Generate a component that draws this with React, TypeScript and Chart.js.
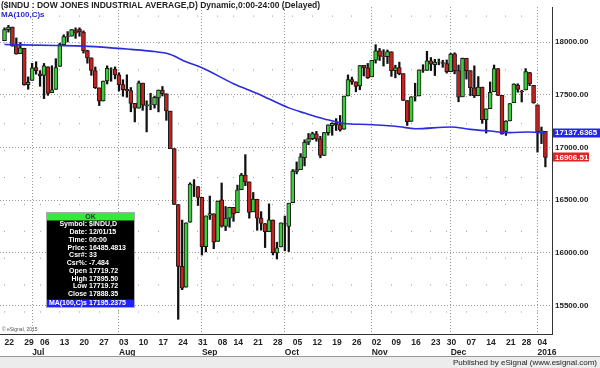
import React, { useEffect, useRef } from 'react';
import { Chart, registerables } from 'chart.js';

Chart.register(...registerables);

// ---------- data (daily candles, DJIA) ----------
const days = [
  '06-22','06-23','06-24','06-25','06-26',
  '06-29','06-30','07-01','07-02',
  '07-06','07-07','07-08','07-09','07-10',
  '07-13','07-14','07-15','07-16','07-17',
  '07-20','07-21','07-22','07-23','07-24',
  '07-27','07-28','07-29','07-30','07-31',
  '08-03','08-04','08-05','08-06','08-07',
  '08-10','08-11','08-12','08-13','08-14',
  '08-17','08-18','08-19','08-20','08-21',
  '08-24','08-25','08-26','08-27','08-28',
  '08-31','09-01','09-02','09-03','09-04',
  '09-08','09-09','09-10','09-11',
  '09-14','09-15','09-16','09-17','09-18',
  '09-21','09-22','09-23','09-24','09-25',
  '09-28','09-29','09-30','10-01','10-02',
  '10-05','10-06','10-07','10-08','10-09',
  '10-12','10-13','10-14','10-15','10-16',
  '10-19','10-20','10-21','10-22','10-23',
  '10-26','10-27','10-28','10-29','10-30',
  '11-02','11-03','11-04','11-05','11-06',
  '11-09','11-10','11-11','11-12','11-13',
  '11-16','11-17','11-18','11-19','11-20',
  '11-23','11-24','11-25','11-27',
  '11-30','12-01','12-02','12-03','12-04',
  '12-07','12-08','12-09','12-10','12-11',
  '12-14','12-15','12-16','12-17','12-18',
  '12-21','12-22','12-23','12-24',
  '12-28','12-29','12-30','12-31',
  '01-04','01-05','01-06',
];

const opens = [
  18016, 18120, 18143, 17969, 17891,
  17943, 17597, 17638, 17760,
  17700, 17684, 17767, 17522, 17552,
  17771, 17978, 18053, 18058, 18111,
  18125, 18096, 17920, 17852, 17732,
  17567, 17442, 17632, 17745, 17746,
  17690, 17599, 17552, 17542, 17419,
  17374, 17612, 17396, 17404, 17405,
  17472, 17545, 17511, 17346, 16990,
  16459, 15872, 15676, 16291, 16644,
  16629, 16528, 16060, 16358, 16372,
  16109, 16505, 16252, 16330,
  16433, 16382, 16600, 16739, 16674,
  16390, 16510, 16330, 16279, 16201,
  16313, 16001, 16057, 16278, 16252,
  16477, 16775, 16791, 16904, 17051,
  17085, 17131, 17082, 16925, 17141,
  17209, 17231, 17219, 17174, 17490,
  17646, 17624, 17586, 17780, 17756,
  17672, 17829, 17918, 17867, 17863,
  17910, 17730, 17759, 17702, 17446,
  17249, 17486, 17490, 17738, 17733,
  17824, 17788, 17813, 17806,
  17798, 17719.72, 17889, 17730, 17482,
  17848, 17730, 17568, 17492, 17574,
  17266, 17370, 17530, 17750, 17495,
  17154, 17253, 17427, 17593,
  17535, 17547, 17711, 17590,
  17405, 17147, 17154,
];

const highs = [
  18137, 18160, 18144, 18041, 17997,
  17943, 17671, 17800, 17815,
  17730, 17799, 17767, 17777, 17844,
  17990, 18071, 18101, 18122, 18137,
  18137, 18108, 17925, 17852, 17765,
  17567, 17632, 17776, 17758, 17766,
  17711, 17644, 17691, 17570, 17419,
  17632, 17612, 17444, 17516, 17489,
  17547, 17580, 17511, 17346, 16990,
  16459, 16312, 16285, 16666, 16696,
  16629, 16528, 16351, 16540, 16372,
  16493, 16664, 16441, 16434,
  16433, 16644, 16755, 16933, 16674,
  16574, 16510, 16392, 16279, 16466,
  16313, 16102, 16285, 16350, 16472,
  16792, 16864, 16943, 17074, 17134,
  17146, 17154, 17107, 17145, 17216,
  17236, 17275, 17305, 17489, 17690,
  17669, 17624, 17779, 17780, 17799,
  17828, 17977, 17941, 17929, 17927,
  17910, 17782, 17811, 17702, 17446,
  17483, 17611, 17737, 17787, 17914,
  17855, 17838, 17841, 17829,
  17832, 17895.5, 17900, 17784, 17850,
  17848, 17730, 17776, 17674, 17574,
  17368, 17623, 17784, 17750, 17495,
  17255, 17418, 17606, 17606,
  17545, 17750, 17714, 17590,
  17405, 17195, 17154,
];

const lows = [
  18016, 18096, 17962, 17886, 17891,
  17592, 17554, 17638, 17697,
  17582, 17465, 17496, 17522, 17552,
  17771, 17978, 18003, 18058, 18037,
  18057, 17897, 17801, 17686, 17561,
  17399, 17442, 17604, 17630, 17652,
  17537, 17487, 17478, 17340, 17244,
  17374, 17354, 17149, 17359, 17375,
  17339, 17490, 17259, 16990, 16459,
  15370, 15651, 15676, 16291, 16535,
  16450, 15980, 16010, 16318, 16040,
  16109, 16245, 16212, 16244,
  16300, 16382, 16600, 16639, 16330,
  16390, 16215, 16216, 16051, 16201,
  15981, 15942, 16057, 16020, 16013,
  16477, 16750, 16791, 16826, 17027,
  17075, 17061, 16903, 16925, 17118,
  17117, 17162, 17156, 17174, 17490,
  17600, 17530, 17549, 17680, 17656,
  17672, 17802, 17827, 17774, 17798,
  17676, 17662, 17691, 17447, 17210,
  17249, 17442, 17490, 17714, 17733,
  17731, 17684, 17786, 17762,
  17707, 17719.72, 17700, 17435, 17482,
  17650, 17492, 17475, 17492, 17230,
  17138, 17370, 17530, 17494, 17128,
  17116, 17253, 17427, 17525,
  17433, 17547, 17588, 17421,
  16957, 17038, 16817,
];

const closes = [
  18119.78, 18144.07, 17966.07, 17890.36, 17946.68,
  17596.35, 17619.51, 17757.91, 17730.11,
  17683.58, 17776.91, 17515.42, 17548.62, 17760.41,
  17977.68, 18053.58, 18050.17, 18120.25, 18086.45,
  18100.41, 17919.29, 17851.04, 17731.92, 17568.53,
  17440.59, 17630.27, 17751.39, 17745.98, 17689.86,
  17598.2, 17550.69, 17540.47, 17419.75, 17373.38,
  17615.17, 17402.84, 17402.51, 17408.25, 17477.4,
  17545.18, 17511.34, 17348.73, 16990.69, 16459.75,
  15871.35, 15666.44, 16285.51, 16654.77, 16643.01,
  16528.03, 16058.35, 16351.38, 16374.76, 16102.38,
  16492.68, 16253.57, 16330.4, 16433.09,
  16370.96, 16599.85, 16739.95, 16674.74, 16384.58,
  16510.19, 16330.47, 16279.89, 16201.32, 16314.67,
  16001.89, 16049.13, 16284.7, 16272.01, 16472.37,
  16776.43, 16790.19, 16912.29, 17050.75, 17084.49,
  17131.86, 17081.89, 16924.75, 17141.75, 17215.97,
  17230.54, 17217.11, 17168.61, 17489.16, 17646.7,
  17623.05, 17581.43, 17779.52, 17755.8, 17663.54,
  17828.76, 17918.15, 17867.58, 17863.43, 17910.33,
  17730.48, 17758.21, 17702.22, 17448.07, 17245.24,
  17483.01, 17489.5, 17737.16, 17732.75, 17823.81,
  17792.68, 17812.19, 17813.39, 17798.49,
  17719.92, 17888.35, 17729.68, 17477.67, 17847.63,
  17730.51, 17568.0, 17492.3, 17574.75, 17265.21,
  17368.5, 17524.91, 17749.09, 17495.84, 17128.55,
  17251.62, 17417.27, 17602.61, 17552.17,
  17528.27, 17720.98, 17603.87, 17425.03,
  17148.94, 17158.66, 16906.51,
];

// MA(100,C) readings
const maDays = ['06-22','07-10','07-21','07-30','08-06','08-13','08-20','08-26','09-01','09-14','09-22','10-02','10-08','10-15','10-22','10-30','11-11','11-17','12-01','12-08','12-15','12-22','12-30','01-06'];
const maValues = [17978.6, 17969, 17963, 17947, 17932, 17916, 17884, 17814, 17758, 17607, 17514, 17377, 17328, 17272, 17229, 17219, 17198, 17179, 17195.24, 17173, 17157, 17142, 17148, 17137.6365];

// axis ticks
const weekTickDays = ['06-22','06-29','07-06','07-13','07-20','07-27','08-03','08-10','08-17','08-24','08-31','09-08','09-14','09-21','09-28','10-05','10-12','10-19','10-26','11-02','11-09','11-16','11-23','11-30','12-07','12-14','12-21','12-28','01-04'];
const weekTickLabels = ['22','29','06','13','20','27','03','10','17','24','31','08','14','21','28','05','12','19','26','02','09','16','23','30','07','14','21','28','04'];
const monthTickDays = ['07-01','08-03','09-01','10-01','11-02','12-01','01-04'];
const monthTickLabels = ['Jul','Aug','Sep','Oct','Nov','Dec','2016'];
const priceTicks = [15500, 16000, 16500, 17000, 17500, 18000];

// texts
const titleText = '($INDU : DOW JONES INDUSTRIAL AVERAGE,D) Dynamic,0:00-24:00 (Delayed)';
const maLabel = 'MA(100,C)s';
const footerText = 'Published by eSignal (www.esignal.com)';
const copyrightText = '\u00A9 eSignal, 2015';
const infoLabels = ['Symbol:', 'Date:', 'Time:', 'Price:', 'Csr#:', 'Csr%:', 'Open', 'High', 'Low', 'Close'];
const infoValues = ['$INDU,D', '12/01/15', '00:00', '16485.4813', '33', '-7.484', '17719.72', '17895.50', '17719.72', '17888.35'];
const infoMAValue = '17195.2375';

// ---------- styling ----------
const FONT = 'Arial, "Liberation Sans", sans-serif';
const GREEN = '#3acc3a';
const RED = '#c8201e';
const GRID = '#9a9a9a';
const X_MIN = -1.14;
const X_MAX = 138.67;
const Y_MIN = 15230.5;
const Y_MAX = 18334.6;

const overlayPlugin = {
  id: 'esignalOverlay',
  afterDraw(chart: any) {
    const ctx = chart.ctx;
    const yS = chart.scales.y;
    ctx.save();
    ctx.textBaseline = 'middle';
    ctx.textAlign = 'left';

    // title + study label
    ctx.font = `bold 8.5px ${FONT}`;
    ctx.fillStyle = '#222';
    ctx.fillText(titleText, 1, 5.5);
    ctx.font = `bold 8px ${FONT}`;
    ctx.fillStyle = '#2b2bd9';
    ctx.fillText(maLabel, 1, 15);

    // last-value boxes
    const lastMA = maValues[maValues.length - 1];
    const lastClose = closes[closes.length - 1];
    const yMA = yS.getPixelForValue(lastMA);
    ctx.fillStyle = '#2424ee';
    ctx.fillRect(553, Math.round(yMA) - 4.5, 47, 9);
    ctx.fillStyle = '#fff';
    ctx.fillText(lastMA.toFixed(4), 555, yMA);
    const yC = yS.getPixelForValue(lastClose);
    ctx.fillStyle = '#e42222';
    ctx.fillRect(553, Math.round(yC) - 4.5, 36, 9);
    ctx.fillStyle = '#fff';
    ctx.fillText(lastClose.toFixed(2), 555, yC);

    // copyright
    ctx.font = `5px ${FONT}`;
    ctx.fillStyle = '#555';
    ctx.fillText(copyrightText, 2, 330);

    // footer
    ctx.fillStyle = '#ececec';
    ctx.fillRect(0, 357, 600, 11);
    ctx.strokeStyle = '#999';
    ctx.lineWidth = 1;
    ctx.beginPath();
    ctx.moveTo(0, 356.5);
    ctx.lineTo(600, 356.5);
    ctx.stroke();
    ctx.font = `8px ${FONT}`;
    ctx.fillStyle = '#222';
    ctx.textAlign = 'right';
    ctx.fillText(footerText, 597, 363);

    // cursor info window
    const bx = 47, by = 213, bw = 87, bh = 94;
    ctx.fillStyle = '#000';
    ctx.fillRect(bx, by, bw, bh);
    ctx.strokeStyle = '#aaa';
    ctx.strokeRect(bx - 0.5, by - 0.5, bw + 1, bh + 1);
    ctx.fillStyle = '#38ea38';
    ctx.fillRect(bx, by, bw, 7.5);
    ctx.font = `bold 7px ${FONT}`;
    ctx.fillStyle = '#333';
    ctx.textAlign = 'center';
    ctx.fillText('OK', bx + bw / 2, by + 4);
    ctx.fillStyle = '#fff';
    for (let k = 0; k < infoLabels.length; k++) {
      const yy = 224.3 + k * 7.77;
      ctx.textAlign = 'right';
      ctx.fillText(infoLabels[k], 87, yy);
      ctx.textAlign = 'left';
      ctx.fillText(infoValues[k], 89, yy);
    }
    ctx.fillStyle = '#1f1fff';
    ctx.fillRect(bx, 299.5, bw, 7.5);
    ctx.fillStyle = '#fff';
    ctx.textAlign = 'right';
    ctx.fillText(maLabel, 87, 303.4);
    ctx.textAlign = 'left';
    ctx.fillText(infoMAValue, 89, 303.4);

    ctx.restore();
  },
};

export default function App() {
  const ref = useRef<HTMLCanvasElement>(null);

  useEffect(() => {
    document.body.style.margin = '0';
    const canvas = ref.current;
    if (!canvas) return;

    const idx = (d: string) => days.indexOf(d);
    const weekIdx = weekTickDays.map(idx);
    const monthIdx = monthTickDays.map(idx);

    const wickData = days.map((_, i) => ({ x: i, y: [lows[i], highs[i]] }));
    const bodyData = days.map((_, i) => ({ x: i, y: [opens[i], closes[i]] }));
    const maData = maDays.map((d, k) => ({ x: idx(d), y: maValues[k] }));

    const tickFont = { family: FONT, size: 8.5, weight: 'bold' as const, lineHeight: 1 };
    const yFont = { family: FONT, size: 8, weight: 'bold' as const, lineHeight: 1 };

    const chart = new Chart(canvas, {
      type: 'bar',
      data: {
        datasets: [
          {
            type: 'bar',
            label: 'wick',
            data: wickData as any,
            backgroundColor: '#111',
            borderWidth: 0,
            barThickness: 1.6,
            grouped: false,
            order: 2,
          } as any,
          {
            type: 'bar',
            label: 'body',
            data: bodyData as any,
            backgroundColor: (c: any) => {
              const i = c.dataIndex;
              if (i === undefined) return GREEN;
              return closes[i] >= opens[i] ? GREEN : RED;
            },
            borderColor: '#1a1a1a',
            borderWidth: 1,
            borderSkipped: false,
            barThickness: 4,
            grouped: false,
            order: 1,
          } as any,
          {
            type: 'line',
            label: maLabel,
            data: maData as any,
            borderColor: '#2b2be0',
            borderWidth: 1.6,
            pointRadius: 0,
            cubicInterpolationMode: 'monotone',
            fill: false,
            order: 0,
          } as any,
        ],
      },
      options: {
        responsive: false,
        maintainAspectRatio: false,
        animation: false,
        devicePixelRatio: 1,
        events: [],
        layout: { padding: { left: 0, right: 0, top: 0, bottom: 10 } },
        plugins: {
          legend: { display: false },
          tooltip: { enabled: false },
          title: { display: false },
        },
        scales: {
          x: {
            type: 'linear',
            position: 'bottom',
            min: X_MIN,
            max: X_MAX,
            offset: false,
            bounds: 'data',
            weight: 0,
            grid: { display: true, drawOnChartArea: true, drawTicks: false, offset: false, color: GRID, lineWidth: 1 },
            border: { display: true, color: '#333', width: 1, dash: [1, 25.9], dashOffset: 18.3 },
            ticks: {
              autoSkip: false,
              maxRotation: 0,
              minRotation: 0,
              align: 'start',
              padding: 4,
              color: '#222',
              font: tickFont,
              callback: (_v: any, i: number) => weekTickLabels[i] ?? '',
            },
            afterBuildTicks: (s: any) => { s.ticks = weekIdx.map((v) => ({ value: v })); },
            afterFit: (s: any) => { s.height = 14; },
          } as any,
          x2: {
            type: 'linear',
            axis: 'x',
            position: 'bottom',
            min: X_MIN,
            max: X_MAX,
            offset: false,
            bounds: 'data',
            weight: 1,
            grid: { display: true, drawOnChartArea: true, drawTicks: false, offset: false, color: GRID, lineWidth: 1 },
            border: { display: false, dash: [1, 2] },
            ticks: {
              autoSkip: false,
              maxRotation: 0,
              minRotation: 0,
              align: 'start',
              padding: 0,
              color: '#222',
              font: tickFont,
              callback: (_v: any, i: number) => monthTickLabels[i] ?? '',
            },
            afterBuildTicks: (s: any) => { s.ticks = monthIdx.map((v) => ({ value: v })); },
            afterFit: (s: any) => { s.height = 10; },
          } as any,
          y: {
            type: 'linear',
            position: 'right',
            min: Y_MIN,
            max: Y_MAX,
            bounds: 'data',
            beginAtZero: false,
            grid: { display: true, drawTicks: false, color: GRID, lineWidth: 1 },
            border: { display: true, color: '#333', width: 1, dash: [1, 2] },
            ticks: {
              padding: 3,
              color: '#222',
              font: yFont,
              callback: (v: any) => Number(v).toFixed(2),
            },
            afterBuildTicks: (s: any) => { s.ticks = priceTicks.map((v) => ({ value: v })); },
            afterFit: (s: any) => { s.width = 48; },
          } as any,
        },
      },
      plugins: [overlayPlugin],
    } as any);

    return () => chart.destroy();
  }, []);

  return (
    <div style={{ position: 'absolute', left: 0, top: 0, width: 600, height: 368, background: '#fff' }}>
      <canvas ref={ref} width={600} height={368} style={{ display: 'block', width: '600px', height: '368px' }} />
    </div>
  );
}
